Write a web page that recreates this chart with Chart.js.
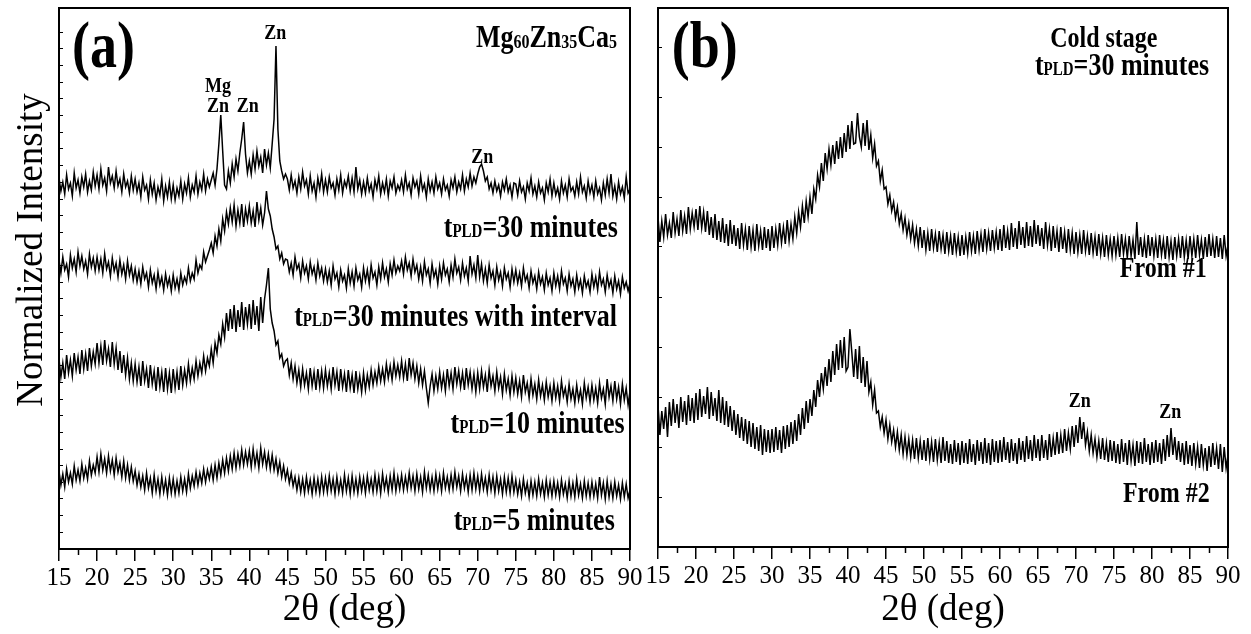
<!DOCTYPE html>
<html>
<head>
<meta charset="utf-8">
<script src="https://cdn.jsdelivr.net/npm/chart.js@4/dist/chart.umd.min.js"></script>
<style>
  html, body { margin: 0; padding: 0; background: #fff; }
  body { width: 1251px; height: 634px; position: relative; overflow: hidden; }
  canvas { position: absolute; top: 0; }
  #chartA { left: 0; }
  #chartB { left: 620px; }
</style>
</head>
<body>
<canvas id="chartA" width="660" height="634"></canvas>
<canvas id="chartB" width="631" height="634"></canvas>
<script>
// 2-theta grid: 15 .. 90 deg, every 0.25 deg (301 points)
const twoThetaStart = 15;
const twoThetaStep = 0.25;
const xTicks = [15, 20, 25, 30, 35, 40, 45, 50, 55, 60, 65, 70, 75, 80, 85, 90];

// Panel (a) - Mg60Zn35Ca5, intensities (arb. units, offset per trace)
const tPLD30 = [
  371, 358, 367, 355, 374, 360, 366, 353, 376, 361, 369, 356, 372, 362, 375, 357, 368, 359, 377, 363,
  374, 360, 380, 364, 371, 358, 382, 366, 373, 361, 378, 363, 370, 357, 375, 362, 368, 356, 373, 359,
  370, 357, 366, 352, 372, 359, 364, 350, 369, 355, 366, 349, 362, 354, 370, 348, 363, 352, 367, 350,
  364, 349, 361, 353, 368, 350, 365, 356, 371, 352, 364, 357, 373, 355, 367, 359, 375, 358, 370, 362,
  369, 376, 364, 380, 405, 434, 398, 364, 360, 378, 366, 385, 372, 390, 378, 396, 410, 427, 395, 376,
  388, 375, 394, 380, 398, 383, 392, 376, 400, 384, 396, 381, 405, 430, 503, 420, 388, 378, 370, 375,
  370, 359, 374, 361, 368, 356, 372, 360, 377, 363, 369, 355, 373, 358, 366, 352, 371, 360, 375, 357,
  369, 357, 372, 361, 366, 354, 370, 359, 374, 356, 368, 362, 373, 358, 371, 357, 382, 360, 369, 355,
  367, 356, 371, 358, 365, 352, 369, 360, 373, 355, 366, 357, 370, 353, 368, 361, 372, 356, 364, 359,
  369, 357, 374, 360, 366, 354, 371, 362, 368, 355, 373, 359, 365, 352, 370, 358, 367, 356, 372, 360,
  366, 355, 370, 359, 364, 353, 369, 361, 372, 357, 367, 360, 374, 358, 370, 362, 376, 363, 372, 366,
  375, 382, 385, 378, 368, 372, 360, 366, 356, 368, 358, 364, 353, 367, 359, 370, 357, 364, 352, 366,
  365, 354, 368, 357, 362, 350, 366, 358, 371, 355, 363, 352, 367, 356, 361, 349, 366, 357, 370, 353,
  366, 354, 361, 350, 368, 356, 364, 352, 370, 358, 362, 353, 367, 355, 372, 357, 363, 351, 368, 356,
  364, 352, 368, 355, 361, 349, 366, 354, 370, 356, 375, 353, 363, 350, 367, 355, 362, 351, 372, 356,
  360
];
const tPLD30interval = [
  289, 276, 292, 279, 285, 272, 294, 281, 290, 277, 297, 283, 293, 280, 288, 275, 295, 282, 291, 278,
  292, 279, 290, 276, 295, 280, 287, 273, 291, 278, 286, 272, 289, 275, 284, 270, 288, 274, 283, 269,
  280, 267, 278, 265, 282, 270, 276, 262, 279, 266, 274, 260, 277, 264, 272, 259, 275, 263, 271, 258,
  274, 261, 270, 259, 276, 264, 272, 266, 281, 268, 276, 270, 289, 276, 284, 280, 297, 287, 293, 299,
  306, 296, 313, 303, 320, 308, 330, 318, 337, 325, 341, 327, 344, 323, 339, 326, 345, 322, 340, 328,
  343, 326, 338, 322, 347, 329, 341, 324, 336, 358, 340, 333, 320, 312, 300, 303, 290, 296, 285, 290,
  289, 277, 286, 274, 292, 280, 285, 271, 288, 276, 283, 270, 287, 275, 282, 269, 286, 273, 281, 268,
  280, 267, 278, 264, 283, 270, 276, 262, 279, 268, 274, 261, 280, 266, 277, 263, 281, 269, 275, 262,
  281, 268, 279, 265, 284, 271, 277, 264, 282, 270, 286, 272, 280, 267, 285, 274, 289, 276, 283, 278,
  288, 275, 292, 279, 286, 273, 290, 277, 284, 270, 282, 268, 287, 274, 280, 266, 285, 272, 279, 265,
  283, 270, 286, 274, 280, 267, 284, 272, 290, 276, 282, 269, 286, 273, 281, 268, 293, 275, 284, 271,
  294, 272, 285, 268, 280, 266, 284, 271, 278, 264, 282, 269, 277, 263, 281, 270, 276, 262, 280, 267,
  279, 266, 276, 263, 281, 268, 274, 261, 278, 266, 273, 260, 277, 265, 272, 259, 276, 264, 271, 258,
  276, 263, 273, 260, 278, 265, 271, 258, 275, 263, 270, 257, 274, 261, 269, 256, 273, 262, 268, 257,
  275, 262, 272, 259, 277, 264, 270, 257, 274, 262, 269, 256, 273, 260, 268, 255, 272, 261, 267, 258,
  266
];
const tPLD10 = [
  190, 172, 186, 170, 194, 176, 189, 173, 196, 179, 192, 175, 199, 180, 195, 178, 201, 183, 197, 185,
  206, 186, 203, 184, 209, 188, 200, 182, 207, 185, 201, 179, 198, 176, 194, 174, 191, 170, 186, 168,
  185, 167, 182, 163, 188, 168, 180, 161, 184, 165, 178, 158, 182, 162, 177, 157, 181, 160, 176, 156,
  180, 161, 177, 159, 183, 164, 179, 166, 185, 168, 181, 170, 188, 173, 186, 176, 193, 178, 191, 183,
  200, 186, 206, 196, 214, 205, 225, 212, 236, 218, 240, 220, 244, 217, 239, 222, 247, 219, 242, 225,
  245, 220, 249, 224, 243, 218, 252, 226, 250, 264, 281, 240, 226, 218, 204, 208, 191, 195, 183, 188,
  190, 174, 186, 170, 183, 166, 179, 162, 180, 164, 176, 160, 181, 163, 177, 159, 180, 162, 178, 161,
  179, 163, 176, 160, 182, 164, 177, 158, 180, 162, 175, 157, 179, 161, 174, 156, 178, 160, 173, 157,
  176, 159, 174, 162, 179, 164, 177, 166, 182, 168, 180, 167, 185, 171, 183, 169, 187, 173, 184, 172,
  188, 171, 185, 168, 191, 174, 186, 170, 183, 166, 180, 164, 178, 161, 146, 163, 175, 158, 173, 160,
  177, 161, 174, 158, 180, 163, 176, 160, 182, 165, 178, 162, 176, 159, 181, 164, 177, 160, 175, 157,
  176, 160, 178, 162, 174, 157, 179, 163, 173, 158, 177, 161, 172, 155, 175, 159, 170, 154, 173, 157,
  171, 155, 168, 152, 174, 157, 166, 151, 170, 154, 165, 150, 169, 153, 164, 149, 167, 152, 163, 148,
  166, 151, 163, 148, 168, 153, 161, 147, 165, 150, 160, 146, 164, 149, 159, 145, 166, 151, 162, 147,
  164, 149, 161, 146, 166, 151, 160, 145, 170, 152, 163, 148, 168, 150, 162, 145, 165, 149, 161, 144,
  158
];
const tPLD5 = [
  78, 64, 75, 62, 80, 67, 76, 65, 83, 69, 79, 68, 85, 71, 81, 70, 88, 74, 84, 76,
  92, 77, 95, 79, 90, 76, 93, 78, 89, 74, 91, 77, 86, 72, 88, 71, 84, 69, 82, 68,
  78, 64, 75, 62, 73, 59, 76, 61, 71, 56, 74, 58, 70, 55, 72, 57, 69, 54, 71, 56,
  70, 55, 68, 56, 72, 58, 70, 57, 75, 61, 73, 63, 77, 64, 76, 66, 80, 67, 79, 70,
  82, 69, 84, 71, 86, 74, 89, 76, 91, 78, 93, 80, 96, 81, 95, 83, 99, 84, 97, 85,
  98, 82, 100, 84, 96, 81, 101, 85, 97, 82, 95, 80, 94, 79, 90, 76, 87, 72, 83, 70,
  79, 66, 76, 63, 72, 59, 71, 57, 70, 56, 72, 58, 69, 55, 71, 57, 70, 56, 72, 57,
  71, 57, 73, 58, 70, 55, 72, 57, 69, 56, 74, 58, 71, 55, 73, 57, 70, 56, 72, 58,
  71, 56, 73, 59, 70, 57, 74, 58, 72, 56, 75, 60, 71, 57, 73, 59, 76, 58, 72, 60,
  74, 59, 72, 60, 76, 61, 73, 58, 75, 60, 72, 57, 77, 61, 74, 59, 72, 58, 75, 60,
  73, 58, 76, 61, 72, 59, 74, 60, 77, 62, 73, 58, 75, 61, 72, 57, 74, 59, 76, 60,
  73, 58, 75, 60, 71, 57, 74, 59, 72, 56, 73, 58, 70, 55, 72, 57, 71, 56, 73, 57,
  69, 55, 67, 53, 70, 56, 66, 52, 68, 54, 67, 53, 70, 55, 66, 52, 69, 54, 67, 53,
  68, 54, 66, 52, 69, 55, 65, 51, 68, 53, 66, 52, 70, 54, 65, 51, 68, 53, 66, 52,
  67, 53, 65, 51, 72, 54, 66, 50, 68, 52, 65, 51, 67, 53, 64, 50, 66, 52, 65, 51,
  59
];

// Panel (b) - cold stage, tPLD = 30 minutes
const from1 = [
  330, 305, 326, 310, 333, 312, 324, 309, 335, 314, 328, 311, 337, 316, 331, 313, 340, 318, 334, 320,
  338, 317, 341, 319, 335, 315, 336, 312, 330, 309, 333, 307, 326, 305, 329, 304, 323, 301, 327, 303,
  322, 301, 319, 298, 324, 302, 318, 297, 321, 300, 317, 296, 323, 301, 316, 297, 320, 299, 318, 296,
  321, 299, 318, 302, 324, 304, 320, 303, 327, 306, 323, 308, 330, 314, 335, 320, 341, 324, 346, 330,
  350, 333, 358, 348, 372, 360, 384, 366, 394, 378, 398, 382, 402, 383, 406, 388, 410, 389, 414, 395,
  422, 398, 426, 403, 404, 434, 410, 400, 424, 401, 427, 397, 412, 389, 403, 381, 386, 366, 377, 358,
  360, 343, 352, 336, 345, 329, 340, 323, 333, 317, 329, 312, 324, 308, 322, 304, 318, 301, 320, 299,
  317, 297, 314, 296, 318, 299, 313, 295, 316, 298, 312, 293, 315, 296, 311, 292, 314, 295, 310, 291,
  312, 292, 310, 294, 315, 296, 311, 293, 316, 297, 313, 295, 318, 298, 314, 296, 317, 299, 315, 297,
  318, 296, 322, 299, 316, 297, 324, 300, 319, 298, 326, 302, 320, 299, 325, 301, 321, 300, 327, 303,
  322, 301, 319, 298, 325, 302, 318, 296, 321, 299, 316, 295, 320, 298, 315, 294, 318, 297, 314, 293,
  315, 295, 312, 293, 317, 296, 311, 292, 314, 294, 310, 291, 313, 293, 309, 290, 312, 292, 308, 291,
  311, 292, 309, 290, 313, 293, 308, 289, 311, 291, 307, 288, 325, 292, 310, 290, 308, 289, 312, 291,
  310, 291, 308, 289, 312, 292, 307, 288, 311, 290, 306, 287, 310, 291, 308, 289, 311, 290, 307, 288,
  311, 291, 308, 289, 312, 292, 307, 288, 310, 290, 313, 291, 308, 289, 311, 290, 309, 288, 312, 291,
  302
];
const from2 = [
  142, 112, 136, 118, 140, 110, 145, 121, 148, 124, 143, 119, 150, 125, 146, 122, 152, 126, 149, 124,
  154, 127, 158, 130, 151, 133, 160, 128, 155, 131, 149, 126, 157, 124, 150, 122, 146, 120, 141, 116,
  137, 112, 133, 109, 130, 106, 128, 103, 126, 100, 124, 98, 120, 96, 122, 92, 118, 95, 117, 94,
  118, 95, 120, 97, 117, 94, 121, 98, 122, 100, 125, 103, 127, 106, 133, 112, 139, 118, 146, 124,
  148, 131, 157, 140, 167, 150, 174, 158, 180, 161, 188, 165, 196, 172, 203, 177, 207, 179, 210, 176,
  180, 218, 195, 170, 198, 168, 201, 164, 190, 160, 186, 155, 165, 142, 157, 134, 136, 120, 130, 114,
  127, 108, 122, 105, 117, 100, 115, 97, 112, 93, 110, 92, 108, 90, 107, 88, 109, 89, 106, 87,
  107, 86, 109, 88, 105, 85, 108, 87, 104, 84, 110, 86, 106, 84, 103, 83, 107, 85, 104, 82,
  106, 84, 104, 83, 108, 85, 103, 82, 107, 86, 105, 83, 109, 84, 104, 82, 108, 85, 106, 84,
  107, 85, 110, 87, 105, 84, 108, 86, 104, 83, 109, 87, 106, 85, 111, 88, 107, 86, 112, 89,
  108, 86, 112, 89, 107, 87, 113, 90, 109, 92, 115, 93, 112, 94, 118, 96, 114, 98, 121, 100,
  122, 104, 130, 108, 125, 102, 115, 96, 112, 94, 108, 90, 106, 88, 109, 87, 104, 85, 107, 86,
  106, 84, 103, 83, 108, 85, 104, 82, 107, 86, 102, 81, 106, 84, 105, 83, 109, 85, 103, 82,
  105, 84, 107, 85, 104, 83, 108, 86, 112, 90, 119, 92, 110, 87, 106, 85, 104, 82, 106, 83,
  102, 81, 104, 83, 100, 79, 103, 82, 99, 76, 101, 80, 104, 82, 99, 78, 103, 75, 100, 79,
  92
];

const SERIF = "'Liberation Serif', 'Times New Roman', serif";
const TEXT_STRETCH = 1.2;   // the original lettering is taller than it is wide

// text placed in data coordinates: [text, fontSize, baselineShift]
const labelsA = [
  { x: 16.7, y: 482, align: 'left', runs: [['(a)', 54]] },
  { x: 88.3, y: 502, align: 'right', runs: [['Mg', 26], ['60', 16, 1], ['Zn', 26], ['35', 16, 1], ['Ca', 26], ['5', 16, 1]] },
  { x: 43.4, y: 510, align: 'center', runs: [['Zn', 18]] },
  { x: 35.9, y: 457, align: 'center', runs: [['Mg', 18]] },
  { x: 35.9, y: 437, align: 'center', runs: [['Zn', 18]] },
  { x: 39.8, y: 437, align: 'center', runs: [['Zn', 18]] },
  { x: 70.6, y: 386, align: 'center', runs: [['Zn', 18]] },
  { x: 88.4, y: 312, align: 'right', runs: [['t', 26], ['PLD', 15], ['=30 minutes', 26]] },
  { x: 88.3, y: 223, align: 'right', runs: [['t', 26], ['PLD', 15], ['=30 minutes with interval', 26]] },
  { x: 89.3, y: 116, align: 'right', runs: [['t', 26], ['PLD', 15], ['=10 minutes', 26]] },
  { x: 88.0, y: 19, align: 'right', runs: [['t', 26], ['PLD', 15], ['=5 minutes', 26]] }
];
const labelsB = [
  { x: 16.8, y: 480, align: 'left', runs: [['(b)', 54]] },
  { x: 66.6, y: 500, align: 'left', runs: [['Cold stage', 24]] },
  { x: 64.6, y: 472, align: 'left', runs: [['t', 26], ['PLD', 15], ['=30 minutes', 26]] },
  { x: 87.2, y: 270, align: 'right', runs: [['From #1', 24]] },
  { x: 87.6, y: 45, align: 'right', runs: [['From #2', 24]] },
  { x: 70.5, y: 140, align: 'center', runs: [['Zn', 18]] },
  { x: 82.4, y: 129, align: 'center', runs: [['Zn', 18]] }
];

function toPoints(values) {
  return values.map((v, i) => ({ x: twoThetaStart + i * twoThetaStep, y: v }));
}

function drawRuns(ctx, lab, xs, ys) {
  let total = 0;
  const parts = lab.runs.map(([text, size, dy]) => {
    ctx.font = `bold ${size}px ${SERIF}`;
    const w = ctx.measureText(text).width;
    total += w;
    return { text, size, dy: dy || 0, w };
  });
  let x = xs.getPixelForValue(lab.x);
  if (lab.align === 'right') x -= total;
  else if (lab.align === 'center') x -= total / 2;
  const y = ys.getPixelForValue(lab.y);
  ctx.save();
  ctx.translate(x, y);
  ctx.scale(1, TEXT_STRETCH);
  ctx.fillStyle = '#000';
  ctx.textAlign = 'left';
  ctx.textBaseline = 'alphabetic';
  let cx = 0;
  parts.forEach(p => {
    ctx.font = `bold ${p.size}px ${SERIF}`;
    ctx.fillText(p.text, cx, p.dy);
    cx += p.w;
  });
  ctx.restore();
}

// frame, minor x ticks, y title and the text labels
const panelDecor = {
  id: 'panelDecor',
  afterDatasetsDraw(chart, args, opts) {
    const ctx = chart.ctx;
    const { left, right, top, bottom } = chart.chartArea;
    const xs = chart.scales.x, ys = chart.scales.y;
    ctx.save();
    ctx.strokeStyle = '#000';
    ctx.lineWidth = 2;
    ctx.strokeRect(left, top, right - left, bottom - top);
    ctx.lineWidth = 1.5;
    xs.ticks.forEach(t => {
      const v = t.value + 2.5;
      if (v < xs.max) {
        const px = Math.round(xs.getPixelForValue(v)) + 0.5;
        ctx.beginPath();
        ctx.moveTo(px, bottom);
        ctx.lineTo(px, bottom + 6);
        ctx.stroke();
      }
    });
    if (opts.yTitle) {
      ctx.save();
      ctx.translate(32, ys.getPixelForValue(opts.yTitle.at));
      ctx.rotate(-Math.PI / 2);
      ctx.font = `37px ${SERIF}`;
      ctx.fillStyle = '#000';
      ctx.textAlign = 'center';
      ctx.textBaseline = 'middle';
      ctx.fillText(opts.yTitle.text, 0, 0);
      ctx.restore();
    }
    (opts.labels || []).forEach(lab => drawRuns(ctx, lab, xs, ys));
    ctx.restore();
  }
};

function makePanel(id, series, cfg) {
  const ctx = document.getElementById(id).getContext('2d');
  return new Chart(ctx, {
    type: 'line',
    data: {
      datasets: series.map(values => ({
        data: toPoints(values),
        borderColor: '#000',
        borderWidth: 1.5,
        pointRadius: 0,
        tension: 0,
        fill: false
      }))
    },
    options: {
      responsive: false,
      animation: false,
      events: [],
      parsing: false,
      layout: { padding: { left: 0, top: 8, right: cfg.padRight, bottom: 0 } },
      plugins: {
        legend: { display: false },
        tooltip: { enabled: false },
        panelDecor: { labels: cfg.labels, yTitle: cfg.yTitle }
      },
      scales: {
        x: {
          type: 'linear',
          min: 15,
          max: 90,
          afterBuildTicks: s => { s.ticks = xTicks.map(v => ({ value: v })); },
          afterFit: s => { s.height = cfg.xHeight; },
          ticks: {
            color: '#000',
            maxRotation: 0,
            autoSkip: false,
            padding: 2,
            font: { family: SERIF, size: 25 }
          },
          grid: { drawOnChartArea: false, drawTicks: true, tickLength: 12, color: '#000', lineWidth: 1.5 },
          border: { display: true, color: '#000', width: 2 },
          title: {
            display: true,
            text: '2θ (deg)',
            color: '#000',
            font: { family: SERIF, size: 37 },
            padding: { top: 0, bottom: 2 }
          }
        },
        y: {
          min: 0,
          max: cfg.yMax,
          afterFit: s => { s.width = cfg.yWidth; },
          ticks: { display: false, stepSize: cfg.yStep },
          grid: { drawOnChartArea: false, drawTicks: true, tickLength: -4, color: '#000', lineWidth: 1 },
          border: { display: true, color: '#000', width: 2 }
        }
      }
    },
    plugins: [panelDecor]
  });
}

makePanel('chartA', [tPLD30, tPLD30interval, tPLD10, tPLD5], {
  labels: labelsA, padRight: 30, xHeight: 85, yWidth: 59, yMax: 541, yStep: 50 / 3,
  yTitle: { text: 'Normalized Intensity', at: 299 }
});
makePanel('chartB', [from1, from2], {
  labels: labelsB, padRight: 23, xHeight: 87, yWidth: 38, yMax: 539, yStep: 50, yTitle: null
});
</script>
</body>
</html>
